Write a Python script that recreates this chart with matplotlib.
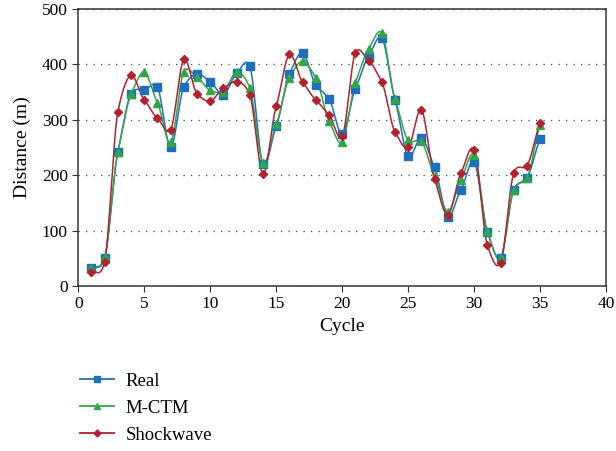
import numpy as np
import matplotlib.pyplot as plt

plt.rcParams['font.family'] = ['Liberation Serif', 'DejaVu Serif']

cycle = np.arange(1, 36)
real = [32, 50, 242, 347, 354, 359, 250, 359, 383, 369, 345, 384, 397, 220, 288,
        383, 421, 363, 338, 274, 356, 415, 448, 336, 234, 267, 214, 125, 174, 224,
        97, 50, 174, 195, 265]
mctm = [33, 52, 242, 346, 386, 331, 259, 387, 377, 353, 351, 386, 358, 222, 292,
        376, 406, 376, 298, 259, 367, 428, 457, 338, 263, 261, 198, 134, 192, 237,
        99, 50, 174, 195, 291]
shock = [26, 44, 314, 380, 336, 303, 282, 409, 347, 334, 357, 369, 345, 202, 324,
         418, 368, 336, 309, 270, 421, 407, 368, 278, 250, 318, 193, 128, 204, 246,
         74, 41, 204, 217, 294]


def smooth(x, y, n=14, k=0.7):
    # cubic hermite curve through the points, softened tangents
    x = np.asarray(x, float)
    y = np.asarray(y, float)
    m = np.gradient(y, x) * k
    t = np.linspace(0, 1, n, endpoint=False)
    h00 = 2 * t**3 - 3 * t**2 + 1
    h10 = t**3 - 2 * t**2 + t
    h01 = -2 * t**3 + 3 * t**2
    h11 = t**3 - t**2
    xs, ys = [], []
    for i in range(len(x) - 1):
        d = x[i + 1] - x[i]
        xs.append(x[i] + t * d)
        ys.append(h00 * y[i] + h10 * d * m[i] + h01 * y[i + 1] + h11 * d * m[i + 1])
    xs.append([x[-1]])
    ys.append([y[-1]])
    return np.concatenate(xs), np.concatenate(ys)


fig = plt.figure(figsize=(6.16, 4.51), dpi=100)
ax = fig.add_axes([0.127, 0.366, 0.857, 0.614])

series = [
    ('Real', real, '#1f6fbf', 's', 6),
    ('M-CTM', mctm, '#33a548', '^', 6),
    ('Shockwave', shock, '#b3202e', 'D', 4.5),
]
handles = []
for name, vals, col, mk, ms in series:
    sx, sy = smooth(cycle, vals)
    ax.plot(sx, sy, color=col, lw=1.1, zorder=2)
    ax.plot(cycle, vals, linestyle='none', marker=mk, ms=ms, color=col, zorder=3)
    h, = ax.plot([], [], color=col, lw=1.3, marker=mk, ms=ms - 1, label=name)
    handles.append(h)

ax.set_xlim(0, 40)
ax.set_ylim(0, 500)
ax.set_xticks(range(0, 41, 5))
ax.set_yticks(range(0, 501, 100))
ax.yaxis.grid(True, linestyle=(0, (1, 5)), color='#444444', lw=0.9)
ax.set_axisbelow(True)
for s in ax.spines.values():
    s.set_color('#333333')
    s.set_linewidth(1.1)
ax.tick_params(labelsize=12.5, length=4, color='#333333')
ax.set_xlabel('Cycle', fontsize=14)
ax.set_ylabel('Distance (m)', fontsize=14, labelpad=8)

fig.legend(handles=handles, loc='upper left', bbox_to_anchor=(0.117, 0.19),
           frameon=False, fontsize=13.5, handlelength=1.85, handletextpad=0.6,
           labelspacing=0.52, borderaxespad=0)

fig.savefig('out.png', dpi=100)
